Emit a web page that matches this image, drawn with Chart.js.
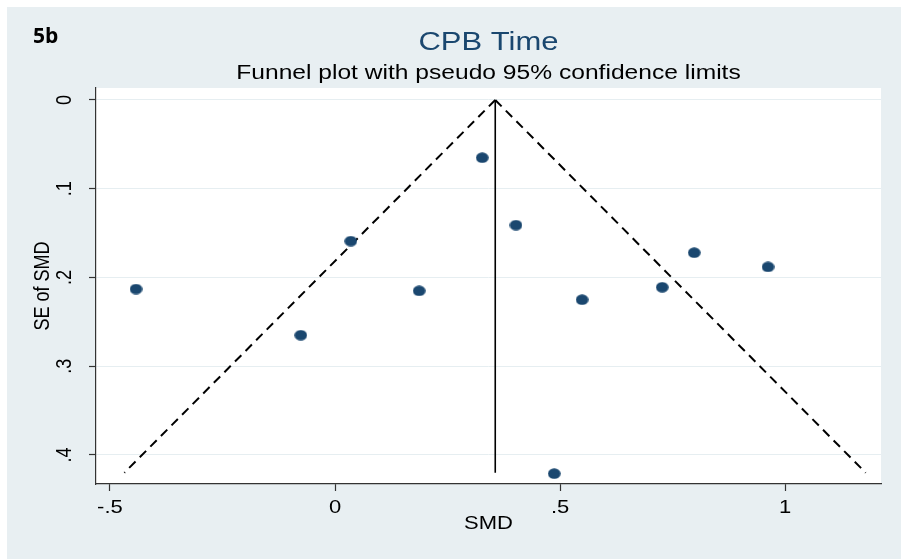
<!DOCTYPE html>
<html lang="en">
<head>
    <meta charset="UTF-8">
    <title>CPB Time - Funnel Plot</title>
    <script src="https://cdn.jsdelivr.net/npm/chart.js"></script>
    <style>
        body { margin: 0; padding: 0; background-color: #fff; }
        #graphRegion {
            position: absolute;
            left: 7px;
            top: 7px;
            width: 894px;
            height: 552px;
            background-color: #e8eff2;
        }
    </style>
</head>
<body>
    <div id="graphRegion">
        <canvas id="funnelChart"></canvas>
    </div>

    <script>
        // Study estimates
        const smd = [-0.442, -0.076, 0.035, 0.187, 0.327, 0.402, 0.487, 0.549, 0.727, 0.798, 0.962];
        const seSmd = [0.213, 0.265, 0.159, 0.215, 0.065, 0.141, 0.421, 0.225, 0.211, 0.172, 0.188];

        // Pooled estimate and pseudo 95% limits at the largest SE
        const pooledSmd = 0.356;
        const seMax = 0.42;
        const limitLower = -0.468;
        const limitUpper = 1.179;

        const xTicks = [-0.5, 0, 0.5, 1];
        const xTickLabels = ['-.5', '0', '.5', '1'];
        const yTicks = [0, 0.1, 0.2, 0.3, 0.4];
        const yTickLabels = ['0', '.1', '.2', '.3', '.4'];

        const navy = '#1a476f';
        const textSquash = 0.82;

        // filled marker, slightly wider than tall
        const marker = document.createElement('canvas');
        marker.width = 13;
        marker.height = 11;
        (function () {
            const m = marker.getContext('2d');
            m.fillStyle = navy;
            m.beginPath();
            m.ellipse(6.5, 5.5, 6.3, 5.3, 0, 0, Math.PI * 2);
            m.fill();
        })();

        function drawText(ctx, text, x, y, font, color, vertical) {
            ctx.save();
            ctx.translate(x, y);
            if (vertical) {
                ctx.rotate(-Math.PI / 2);
                ctx.scale(textSquash, 1);
            } else {
                ctx.scale(1, textSquash);
            }
            ctx.font = font;
            ctx.fillStyle = color;
            ctx.textAlign = 'center';
            ctx.textBaseline = 'middle';
            ctx.fillText(text, 0, 0);
            ctx.restore();
        }

        const plotBackground = {
            id: 'plotBackground',
            beforeDraw(chart) {
                const { ctx, chartArea: a } = chart;
                ctx.save();
                ctx.fillStyle = '#ffffff';
                ctx.fillRect(a.left, a.top, a.right - a.left, a.bottom - a.top);
                ctx.restore();
            }
        };

        const graphText = {
            id: 'graphText',
            afterDraw(chart) {
                const { ctx, chartArea: a, scales } = chart;
                const cx = (a.left + a.right) / 2;
                const cy = (a.top + a.bottom) / 2;
                const axisFont = '22px "Liberation Sans", Arial, sans-serif';

                ctx.save();
                ctx.font = 'bold 21px "Open Sans", sans-serif';
                ctx.fillStyle = '#000';
                ctx.textBaseline = 'middle';
                ctx.fillText('5b', 26, 30);
                ctx.restore();

                drawText(ctx, 'CPB Time', cx, 36, '31px "Liberation Sans", Arial, sans-serif', navy, false);
                drawText(ctx, 'Funnel plot with pseudo 95% confidence limits', cx, 66,
                    '24.6px "Liberation Sans", Arial, sans-serif', '#000', false);

                xTicks.forEach((v, i) => {
                    drawText(ctx, xTickLabels[i], scales.x.getPixelForValue(v), a.bottom + 24, axisFont, '#000', false);
                });
                drawText(ctx, 'SMD', cx, a.bottom + 40, axisFont, '#000', false);

                yTicks.forEach((v, i) => {
                    drawText(ctx, yTickLabels[i], a.left - 31, scales.y.getPixelForValue(v), axisFont, '#000', true);
                });
                drawText(ctx, 'SE of SMD', a.left - 53, cy, axisFont, '#000', true);
            }
        };

        const ctx = document.getElementById('funnelChart').getContext('2d');
        new Chart(ctx, {
            type: 'scatter',
            data: {
                datasets: [
                    {
                        label: 'Studies',
                        data: smd.map((x, i) => ({ x: x, y: seSmd[i] })),
                        pointStyle: marker,
                        pointRadius: 6,
                        showLine: false
                    },
                    {
                        label: 'Pooled',
                        data: [{ x: pooledSmd, y: 0 }, { x: pooledSmd, y: seMax }],
                        showLine: true,
                        borderColor: '#000',
                        borderWidth: 1.6,
                        pointRadius: 0
                    },
                    {
                        label: 'Lower limit',
                        data: [{ x: pooledSmd, y: 0 }, { x: limitLower, y: seMax }],
                        showLine: true,
                        borderColor: '#000',
                        borderWidth: 2,
                        borderDash: [9, 6],
                        pointRadius: 0
                    },
                    {
                        label: 'Upper limit',
                        data: [{ x: pooledSmd, y: 0 }, { x: limitUpper, y: seMax }],
                        showLine: true,
                        borderColor: '#000',
                        borderWidth: 2,
                        borderDash: [9, 6],
                        pointRadius: 0
                    }
                ]
            },
            options: {
                responsive: true,
                maintainAspectRatio: false,
                animation: false,
                layout: { padding: { left: 0, right: 20, top: 81, bottom: 0 } },
                plugins: {
                    legend: { display: false },
                    tooltip: { enabled: false }
                },
                scales: {
                    x: {
                        type: 'linear',
                        min: -0.531,
                        max: 1.213,
                        afterBuildTicks: (scale) => { scale.ticks = xTicks.map(v => ({ value: v })); },
                        afterFit: (scale) => { scale.height = 75; },
                        ticks: { display: false },
                        grid: {
                            drawOnChartArea: false,
                            tickLength: 7,
                            tickColor: '#333',
                            tickWidth: 1.2
                        },
                        border: { display: true, color: '#333', width: 1.2 }
                    },
                    y: {
                        type: 'linear',
                        reverse: true,
                        min: -0.0135,
                        max: 0.4327,
                        afterBuildTicks: (scale) => { scale.ticks = yTicks.map(v => ({ value: v })); },
                        afterFit: (scale) => { scale.width = 89; },
                        ticks: { display: false },
                        grid: {
                            color: '#e6eef1',
                            lineWidth: 1,
                            tickLength: 7,
                            tickColor: '#333',
                            tickWidth: 1.2
                        },
                        border: { display: true, color: '#333', width: 1.2 }
                    }
                }
            },
            plugins: [plotBackground, graphText]
        });
    </script>
</body>
</html>
